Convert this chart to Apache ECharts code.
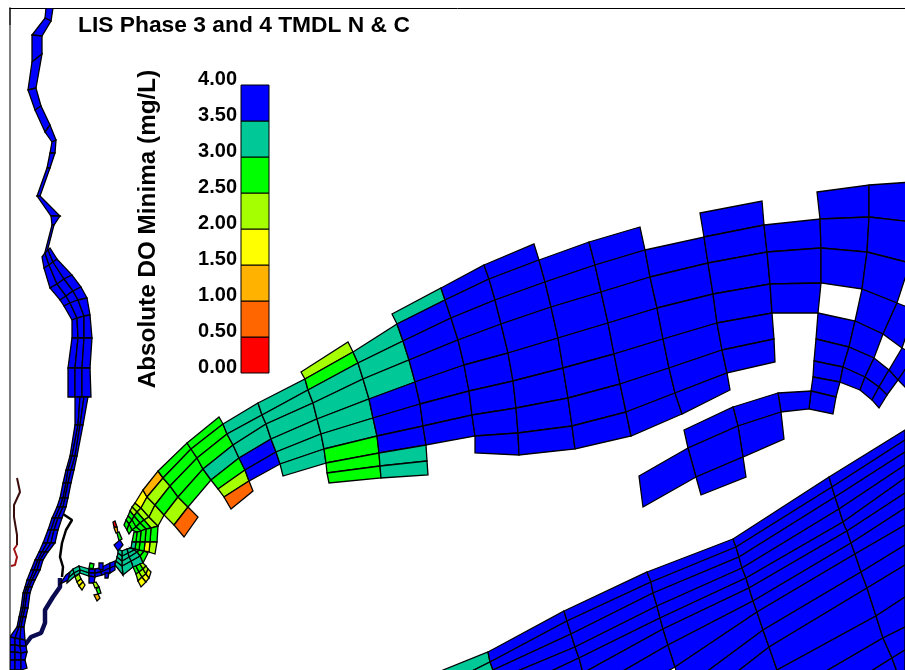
<!DOCTYPE html>
<html><head><meta charset="utf-8">
<style>html,body{margin:0;padding:0;background:#fff}#c{width:905px;height:670px}</style>
<script src="https://cdn.jsdelivr.net/npm/echarts@6/dist/echarts.min.js"></script>
</head><body><div id="c"></div>
<script>
// DO classes (mid-value of each 0.5 mg/L class)
const R=0.25,O=0.75,A=1.25,L=1.75,Y=2.25,G=2.75,T=3.25,B=3.75,_=null;
const legendTicks=[0,0.5,1,1.5,2,2.5,3,3.5,4];
const legendColors=['#ff0000','#ff6600','#ffb300','#ffff00','#a6ff00','#00ff00','#00c896','#0000ff'];
const titleText='LIS Phase 3 and 4 TMDL N & C';
const legendName='Absolute DO Minima (mg/L)';

// Model grid columns (map coordinates) and DO values per column gap
const soundCols=[
 [[158,471],[163,478],[170,486],[178,497],[188,507]],
 [[187,443],[191,449],[197,458],[203,469],[211,480]]];
const soundVals=[[G,G,G,G]];
const westCols=[
 [[143,490],[147,497],[155,505],[164,515],[174,525],[184,537]],
 [[158,471],[163,478],[170,486],[178,497],[188,507],[198,517]]];
const westVals=[[A,Y,G,Y,O]];
const narrowsCols=[
 [[135,503],[141,508],[149,517],[158,526]],
 [[143,490],[147,497],[155,505],[164,515]]];
const narrowsVals=[[L,Y,Y]];
const mainCols=[
 [[187,443],[191,449],[197,458],[203,469],[211,480],[218,489],[224,497],[231,509],_,_],
 [[219,417],[223,424],[227,434],[233,445],[239,458],[245,470],[249,481],[253,491],_,_],
 [_,[258,403],[262,415],[266,424],[271,439],[276,452],[280,464],[283,476],_,_],
 [[301,372],[305,379],[308,390],[313,403],[317,419],[321,434],[324,449],[326,463],[327,473],[329,483]],
 [[348,342],[353,352],[358,363],[363,379],[369,399],[373,418],[377,436],[379,453],[380,466],[381,478]],
 [[392,314],[397,324],[403,341],[409,360],[415,382],[420,404],[423,426],[426,445],[427,461],[428,475]],
 [[441,288],[445,300],[451,318],[458,340],[464,365],[469,391],[472,415],[475,436],[475,453],_],
 [[484,265],[489,279],[495,300],[501,324],[508,353],[513,381],[516,408],[518,433],[519,455],_],
 [[534,244],[539,260],[545,282],[551,307],[558,338],[563,368],[568,398],[572,426],[575,449],_],
 [_,[589,242],[595,265],[601,292],[608,323],[614,354],[620,384],[626,412],[631,436],_],
 [_,[640,227],[645,250],[650,277],[657,308],[663,339],[669,368],[675,393],[682,414],_],
 [_,[700,213],[704,237],[708,263],[713,294],[717,323],[722,350],[727,373],[730,390],_],
 [_,[762,201],[764,225],[767,252],[770,284],[772,313],[774,339],[775,362],_,_],
 [_,_,[820,219],[821,248],[821,283],[818,313],_,_,_,_]];
const mainVals=[
 [G,G,G,T,G,Y,O,_,_],
 [_,T,T,T,B,B,_,_,_],
 [_,T,T,T,T,T,T,_,_],
 [Y,G,T,T,T,T,G,G,G],
 [_,T,T,T,B,B,B,T,T],
 [T,B,B,B,B,B,B,_,_],
 [B,B,B,B,B,B,B,B,_],
 [B,B,B,B,B,B,B,B,_],
 [_,B,B,B,B,B,B,B,_],
 [_,B,B,B,B,B,B,B,_],
 [_,_,B,B,B,B,B,B,_],
 [_,B,B,B,B,B,B,_,_],
 [_,_,B,B,B,_,_,_,_]];
const eastCols=[
 [[817,192],[820,219],[821,248],[821,283],[818,313],[816,339],[814,361],[813,377],[811,391],[809,409]],
 [[869,185],[869,217],[867,252],[862,289],[855,321],[849,347],[843,367],[840,382],[836,397],[833,414]]];
const eastVals=[[B,B,B,_,B,B,B,B,B]];
const bendCols=[
 [[869,185],[869,217],[867,252],[862,289],[855,321],[849,347],[843,367],[840,382]],
 [[912,182],[912,222],[910,263],[897,303],[883,334],[874,358],[865,377],[860,390]],
 [_,_,_,[915,310],[902,348],[889,370],[879,387],[872,400]],
 [_,_,_,_,[915,355],[898,380],[887,395],[879,408]],
 [_,_,_,_,[925,360],[907,389],_,_]];
const bendVals=[[B,B,B,B,B,B,B],[_,_,_,B,_,B,B],[_,_,_,_,B,B,B],[_,_,_,_,B,_,_]];
const southCols=[
 [[443,670],[450,682],[455,690],[462,700],[468,712],[475,725]],
 [[488,652],[490,662],[493,670],[496,680],[500,695],[505,710],[510,730],[515,750]],
 [[564,611],[567,621],[571,634],[575,647],[579,658],[583,673],[590,690],[597,710]],
 [[647,572],[651,582],[653,593],[657,606],[660,618],[663,629],[668,645],[675,667],[682,690],[688,710],[695,730],[700,750],[705,770],[710,790]],
 [[733,539],[736,547],[739,557],[742,568],[746,578],[749,588],[753,601],[757,612],[763,630],[769,647],[777,670],[785,695],[793,720],[800,745]],
 [[829,477],[832,487],[835,497],[839,509],[843,522],[847,531],[851,543],[855,554],[861,572],[867,588],[876,616],[883,638],[892,658],[897,672]],
 [[905,430],[905,440],[905,452],[905,465],[905,478],[905,493],[905,508],[905,525],[905,545],[905,565],[905,597],[905,627],[905,650],[905,672]]];
const southVals=[
 [T,T,T,T,T],
 [B,B,B,B,B,B,B],
 [B,B,B,B,B,B,B],
 [B,B,B,B,B,B,B,B,B,B,B,B,B],
 [B,B,B,B,B,B,B,B,B,B,B,B,B],
 [B,B,B,B,B,B,B,B,B,B,B,B,B]];
const fanCols=[
 [[135,503],[132,507],[130,511],[128,516],[126,520],[124,525]],
 [[141,508],[137,512],[134,516],[132,520],[129,524],[127,530]],
 [[149,517],[144,520],[140,523],[136,527],[132,530],[129,534]],
 [[158,526],[151,528],[146,529],[141,531],[137,532],[134,532]],
 [[157,542],[150,542],[145,542],[140,542],[136,542],[132,542]],
 [[155,554],[149,552],[144,551],[139,550],[135,549],[131,548]]];
const fanVals=[[Y,Y,G,G,G],[Y,G,G,G,G],[Y,G,G,G,_],[G,G,G,G,G],[Y,L,G,G,T]];
const lowerFanCols=[
 [[148,553],[144,551],[139,550],[135,549],[131,548]],
 [[143,563],[140,556],[137,552],[134,550],[131,548]],
 [[133,567],[131,561],[129,557],[128,553],[127,549]],
 [[123,575],[122,566],[122,561],[122,556],[122,551]],
 [[115,565],[116,561],[117,557],[118,553],[118,549]]];
const lowerFanVals=[[G,G,T,T],[T,T,T,T],[T,T,T,T],[T,T,T,T]];
const stripCols=[
 [[67,575],[67,579],[67,583]],
 [[73,569],[74,573],[75,576]],
 [[79,566],[80,570],[80,573]],
 [[89,569],[89,573],[89,576]],
 [[95,569],[95,573],[95,577]],
 [[100,568],[101,572],[102,575]],
 [[110,563],[110,568],[110,573]],
 [[115,561],[115,566],[115,570]]];
const stripVals=[[T,T],[T,T],[T,T],[B,B],[B,B],[B,B],[B,B]];
const outerStripCols=[
 [[133,567],[136,574],[138,581],[141,587]],
 [[136,566],[139,572],[142,577],[146,582]],
 [[140,564],[143,569],[146,574],[149,578]],
 [[143,563],[146,566],[148,569],[151,572]]];
const outerStripVals=[[G,Y,L],[G,Y,L],[Y,Y,L]];
const upperHudsonCols=[
 [[46,8],[45,18],[32,35],[32,62],[28,90],[35,110],[45,132],[52,142],[50,153],[47,168],[37,196],[51,216],[52,225],[44,256]],
 [[53,8],[51,21],[42,36],[42,54],[36,88],[41,106],[50,125],[56,140],[55,153],[50,168],[40,196],[60,216],[54,225],[46,256]]];
const upperHudsonVals=[[B,B,B,B,B,B,B,B,B,B,B,B,B]];
const midHudsonCols=[
 [[42,257],[44,268],[50,288],[60,300],[64,306],[72,320],[72,338],[68,368],[68,397]],
 [[45,253],[49,265],[57,284],[66,296],[70,303],[77,318],[78,338],[75,368],[75,397]],
 [[48,250],[53,262],[64,279],[73,291],[78,300],[84,316],[84,338],[82,368],[82,397]],
 [[50,248],[57,259],[72,275],[81,287],[87,298],[90,315],[92,338],[90,368],[91,397]]];
const midHudsonVals=[[B,B,B,B,B,B,B,B],[B,B,B,B,B,B,B,B],[B,B,B,B,B,B,B,B]];
const lowHudsonCols=[
 [[75,397],[75,425],[70,456],[66,470],[63,483],[60,498],[57,507],[52,518],[48,530],[43,543],[39,552],[35,560],[31,570],[27,580],[25,587],[23,593],[21,608],[19,617],[17,627],[10,637],[10,645],[10,652],[10,660],[10,670]],
 [[80,397],[78,425],[72,456],[68,470],[66,483],[63,498],[60,507],[55,518],[51,530],[47,543],[42,552],[38,560],[34,570],[30,580],[27,587],[25,593],[23,608],[21,617],[19,627],[15,638],[15,645],[15,652],[15,660],[15,670]],
 [[84,397],[80,425],[75,456],[71,470],[68,483],[65,498],[63,507],[58,518],[54,530],[51,543],[45,552],[40,560],[37,570],[32,580],[29,587],[27,593],[25,608],[23,617],[21,627],[20,639],[20,646],[21,653],[21,660],[21,670]],
 [[88,397],[83,425],[77,456],[74,470],[71,483],[68,498],[66,507],[62,518],[58,530],[55,543],[48,552],[43,560],[40,570],[35,580],[32,587],[30,593],[28,608],[26,617],[24,627],[25,640],[26,646],[27,652],[25,660],[27,668]]];
const lowHudsonRow=[B,B,B,B,B,B,B,B,B,B,B,B,B,B,B,B,B,B,B,B,B,B,B];
const lowHudsonVals=[lowHudsonRow,lowHudsonRow,lowHudsonRow];
// Single grid cells: four corners then DO value
const singleCells=[
 [778,393,811,391,809,409,781,412,B],[733,407,778,393,781,412,738,426,B],
 [738,426,781,412,784,439,743,457,B],[684,430,733,407,738,426,688,448,B],
 [688,448,738,426,743,457,696,477,B],[696,477,743,457,746,477,701,495,B],
 [639,476,688,448,696,477,643,507,B],
 [113,522,115,521,117,527,114,527,R],[114,528,117,527,118,533,116,533,A],
 [117,533,119,532,122,539,119,541,G],[114,545,120,540,123,545,118,551,B],
 [90,563,94,564,93,569,89,568,G],[99,563,103,563,103,570,99,569,B],
 [105,573,109,573,108,578,105,578,B],[89,576,95,577,94,583,89,583,B],
 [93,583,96,582,99,587,95,588,Y],[96,589,99,587,101,593,98,594,G],
 [94,595,98,594,100,598,97,601,A],
 [75,577,79,574,81,579,77,582,Y],[77,582,81,579,83,582,79,586,L],[79,586,83,582,85,585,82,590,L],
 [60,584,66,575,70,572,68,580,B]];
// Narrow channels drawn as dense lines
const harlemLine=[[60,512],[72,520],[66,530],[62,543],[60,557],[63,567],[62,577]];
const killLine=[[60,578],[60,587],[53,597],[45,610],[45,623],[41,633],[31,637],[25,645]];
const creekLine=[[17,478],[20,492],[14,505],[14,517],[17,535],[17,545]];
const creekRedLine=[[17,545],[14,549],[17,557],[15,565],[11,566]];
const frameCorner=[[10,8],[10,25]];

function meshCells(cols,vals){
  const out=[];
  for(let i=0;i<cols.length-1;i++){
    for(let r=0;r<vals[i].length;r++){
      const v=vals[i][r],a=cols[i][r],b=cols[i+1][r],c=cols[i+1][r+1],d=cols[i][r+1];
      if(v===null||!a||!b||!c||!d) continue;
      out.push([a[0],a[1],b[0],b[1],c[0],c[1],d[0],d[1],v]);
    }
  }
  return out;
}
const cells=[].concat(
 meshCells(upperHudsonCols,upperHudsonVals),meshCells(midHudsonCols,midHudsonVals),meshCells(lowHudsonCols,lowHudsonVals),
 meshCells(stripCols,stripVals),meshCells(lowerFanCols,lowerFanVals),meshCells(fanCols,fanVals),meshCells(outerStripCols,outerStripVals),
 meshCells(narrowsCols,narrowsVals),meshCells(westCols,westVals),meshCells(soundCols,soundVals),meshCells(mainCols,mainVals),
 meshCells(eastCols,eastVals),meshCells(bendCols,bendVals),meshCells(southCols,southVals),singleCells);
const colorOf=v=>legendColors[Math.min(legendColors.length-1,Math.floor(v/0.5))];
const legendData=legendColors.map((c,i)=>[legendTicks[i],legendTicks[i+1]]);
const lineSeries=(d,color,w)=>({type:'line',data:d,xAxisIndex:0,yAxisIndex:0,showSymbol:false,silent:true,z:1,
  lineStyle:{color:color,width:w},itemStyle:{color:color},clip:true});
const font='"Liberation Sans",Arial,sans-serif';
const chart=echarts.init(document.getElementById('c'),null,{renderer:'canvas'});
chart.setOption({
 animation:false,backgroundColor:'#fff',
 title:{text:titleText,left:78,top:14,padding:0,textStyle:{fontFamily:font,fontWeight:'bold',fontSize:22.8,color:'#000'}},
 grid:[{left:10,top:8,right:0,bottom:0},{left:241,top:85,width:28,height:288},{left:241,top:79,width:28,height:288}],
 xAxis:[
  {type:'value',min:10,max:905,position:'top',axisLine:{show:true,onZero:false,lineStyle:{color:'#000',width:1}},axisTick:{show:false},axisLabel:{show:false},splitLine:{show:false}},
  {type:'value',gridIndex:1,min:0,max:1,show:false},
  {type:'value',gridIndex:2,min:0,max:1,show:false}],
 yAxis:[
  {type:'value',min:8,max:670,inverse:true,axisLine:{show:true,onZero:false,lineStyle:{color:'#808080',width:2}},axisTick:{show:false},axisLabel:{show:false},splitLine:{show:false}},
  {type:'value',gridIndex:1,min:0,max:4,axisLine:{show:false},axisTick:{show:false},axisLabel:{show:false},splitLine:{show:false},
   name:legendName,nameLocation:'middle',nameRotate:90,nameGap:81,
   nameTextStyle:{fontFamily:font,fontWeight:'bold',fontSize:24.3,color:'#000'}},
  {type:'value',gridIndex:2,min:0,max:4,interval:0.5,axisLine:{show:false},axisTick:{show:false},splitLine:{show:false},
   axisLabel:{margin:4,formatter:v=>v.toFixed(2),fontFamily:font,fontWeight:'bold',fontSize:20,color:'#000'}}],
 series:[
  lineSeries(creekLine,'#3a0d0d',2),lineSeries(creekRedLine,'#a01010',2),
  lineSeries(harlemLine,'#000',2.5),lineSeries(killLine,'#0a0a50',4.5),lineSeries(frameCorner,'#000',1),
  {type:'custom',xAxisIndex:0,yAxisIndex:0,clip:true,silent:true,z:2,data:cells,
   renderItem:(p,api)=>{
    const pts=[];
    for(let k=0;k<4;k++) pts.push(api.coord([api.value(2*k),api.value(2*k+1)]));
    return {type:'polygon',shape:{points:pts},style:{fill:colorOf(api.value(8)),stroke:'#000',lineWidth:1.3}};
   }},
  {type:'custom',xAxisIndex:1,yAxisIndex:1,silent:true,z:3,data:legendData,
   renderItem:(p,api)=>{
    const a=api.coord([0,api.value(0)]),b=api.coord([1,api.value(1)]);
    return {type:'rect',shape:{x:a[0],y:b[1],width:b[0]-a[0],height:a[1]-b[1]},
      style:{fill:legendColors[p.dataIndex],stroke:'#000',lineWidth:1}};
   }},
  {type:'custom',xAxisIndex:2,yAxisIndex:2,silent:true,data:legendTicks.map(v=>[0,v]),renderItem:()=>null}
 ]
});
</script></body></html>
